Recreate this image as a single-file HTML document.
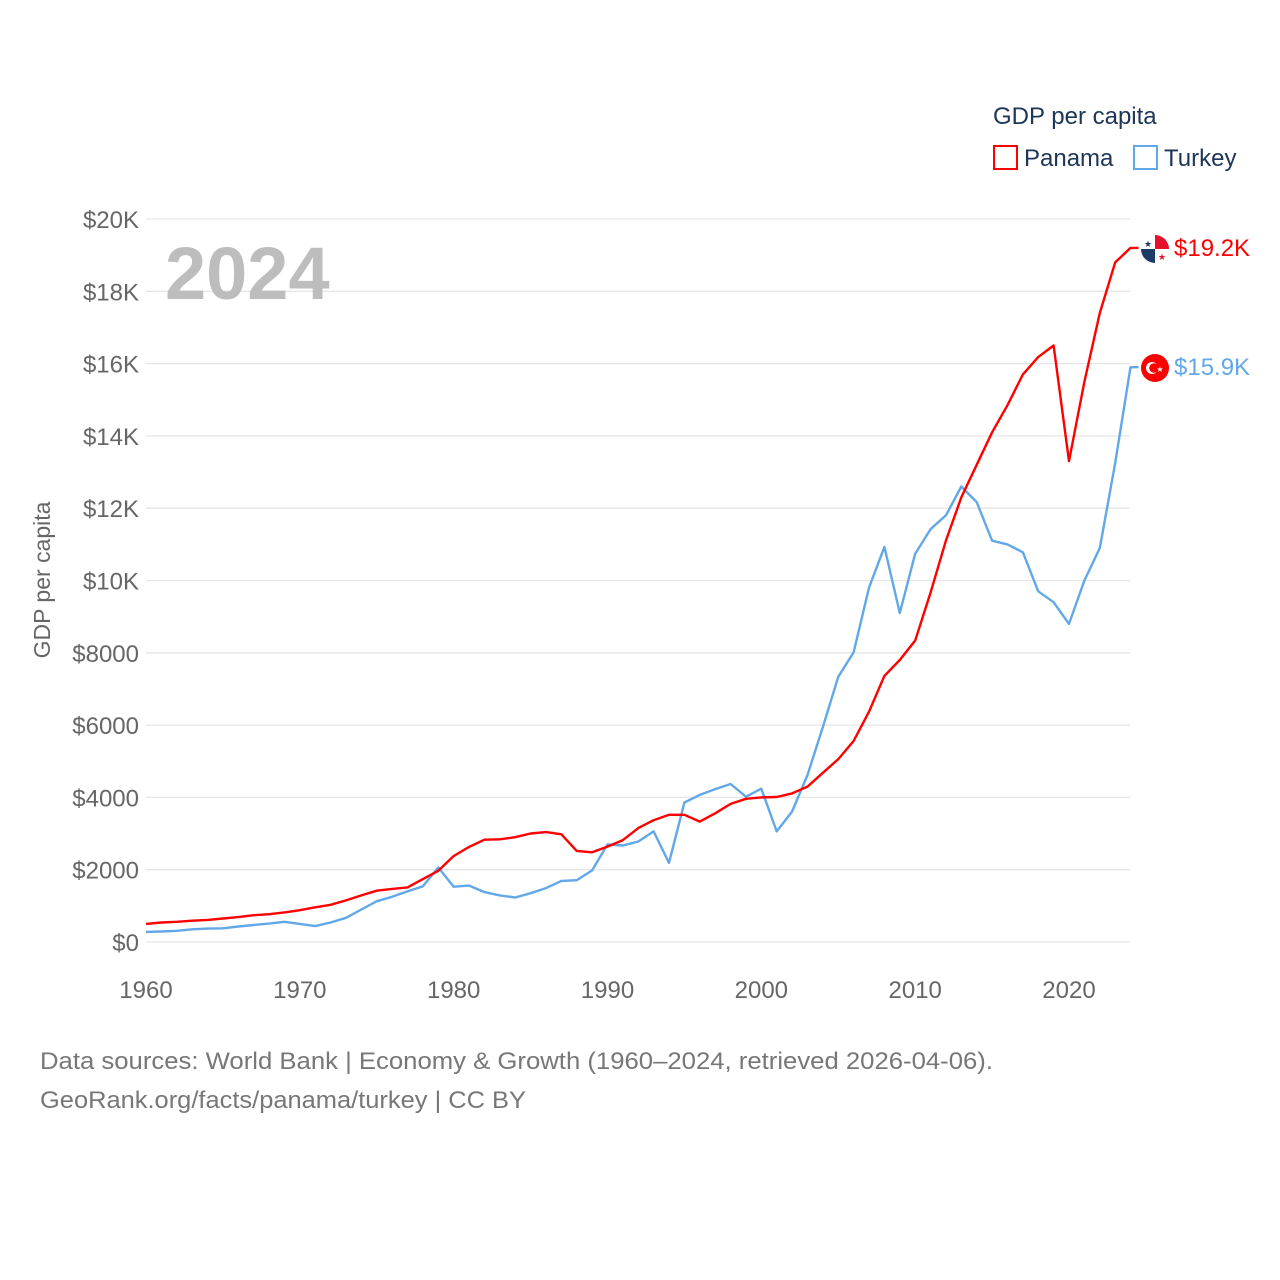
<!DOCTYPE html>
<html><head><meta charset="utf-8">
<style>
body{margin:0;background:#fff;}
svg{display:block;font-family:"Liberation Sans",sans-serif;}
</style></head>
<body>
<svg id="chart" width="1280" height="1280" viewBox="0 0 1280 1280">
<g id="grid"></g>
<g id="yticks"></g>
<g id="xticks"></g>
<text x="165" y="299" font-size="74" font-weight="bold" fill="#bdbdbd">2024</text>
<text transform="translate(50,580) rotate(-90)" text-anchor="middle" font-size="23" fill="#666">GDP per capita</text>
<text x="993" y="124" font-size="24" fill="#1d3557">GDP per capita</text>
<g><rect x="994" y="146" width="23" height="23" fill="none" stroke="#f00" stroke-width="2"/><text x="1024" y="166" font-size="24" fill="#1d3557">Panama</text></g>
<g><rect x="1134" y="146" width="23" height="23" fill="none" stroke="#62a8e8" stroke-width="2"/><text x="1164" y="166" font-size="24" fill="#1d3557">Turkey</text></g>
<g id="series"></g>
<g>
<circle cx="1155" cy="249" r="14" fill="#fff"/>
<path d="M1155 249 V235 A14 14 0 0 1 1169 249 Z" fill="#e8112d"/>
<path d="M1155 249 H1141 A14 14 0 0 0 1155 263 Z" fill="#1d3a6b"/>
<text x="1148" y="247" font-size="9" fill="#1d3a6b" text-anchor="middle">★</text>
<text x="1162" y="260" font-size="9" fill="#e8112d" text-anchor="middle">★</text>
</g>
<g>
<circle cx="1155" cy="368" r="14" fill="#f00"/>
<circle cx="1152" cy="368" r="6" fill="#fff"/>
<circle cx="1154" cy="368" r="4.8" fill="#f00"/>
<text x="1160" y="372" font-size="8" fill="#fff" text-anchor="middle">★</text>
</g>
<text x="1174" y="256" font-size="24" fill="#f00">$19.2K</text>
<text x="1174" y="375" font-size="24" fill="#62a8e8">$15.9K</text>
<text x="40" y="1069" font-size="24" fill="#777" textLength="953" lengthAdjust="spacingAndGlyphs">Data sources: World Bank | Economy &amp; Growth (1960–2024, retrieved 2026-04-06).</text>
<text x="40" y="1108" font-size="24" fill="#777" textLength="486" lengthAdjust="spacingAndGlyphs">GeoRank.org/facts/panama/turkey | CC BY</text>
</svg>
<script>
const years = [];
for (let y = 1960; y <= 2024; y++) years.push(y);
const panama = [500,540,560,590,610,650,690,740,770,820,880,960,1030,1150,1290,1420,1470,1510,1740,1970,2380,2630,2830,2840,2900,3000,3040,2980,2520,2480,2640,2820,3150,3370,3520,3520,3330,3560,3820,3960,4000,4010,4110,4300,4680,5060,5560,6370,7360,7800,8340,9660,11100,12300,13200,14100,14850,15700,16180,16500,13300,15500,17400,18800,19200];
const turkey = [280,290,310,350,370,380,430,470,510,560,500,440,540,670,900,1130,1250,1400,1540,2060,1530,1560,1380,1290,1230,1350,1490,1690,1710,1980,2700,2670,2780,3060,2190,3860,4070,4230,4370,4020,4240,3060,3610,4620,5950,7340,8010,9800,10930,9100,10740,11420,11800,12600,12170,11100,11000,10780,9700,9400,8800,10000,10900,13250,15900];
const yTicks = [0,2000,4000,6000,8000,10000,12000,14000,16000,18000,20000];
const yTickLabels = ["$0","$2000","$4000","$6000","$8000","$10K","$12K","$14K","$16K","$18K","$20K"];
const xTicks = [1960,1970,1980,1990,2000,2010,2020];

const NS = "http://www.w3.org/2000/svg";
const xS = y => 146 + (y - 1960) * (1069 - 146) / 60;
const yS = v => 942 - v * (942 - 219) / 20000;
function mk(tag, attrs, parent){const e=document.createElementNS(NS,tag);for(const k in attrs)e.setAttribute(k,attrs[k]);parent.appendChild(e);return e;}
const grid=document.getElementById('grid'), yt=document.getElementById('yticks'), xt=document.getElementById('xticks'), ser=document.getElementById('series');
yTicks.forEach((v,i)=>{
  const l=mk('line',{x1:146,x2:1130,y1:yS(v),y2:yS(v),stroke:'#e6e6e6','stroke-width':1.3},grid);
  
  
  const t=mk('text',{x:139,y:yS(v)+9,'text-anchor':'end','font-size':24,fill:'#666'},yt);
  t.textContent=yTickLabels[i];
  
  
});
xTicks.forEach(y=>{
  const t=mk('text',{x:xS(y),y:998,'text-anchor':'middle','font-size':24,fill:'#666'},xt);
  t.textContent=y;
  
  
});
function line(data,color,name){
  let d=data.map((v,i)=>(i?'L':'M')+xS(years[i]).toFixed(1)+' '+yS(v).toFixed(1)).join(' ');
  d+=' h8';
  const p=mk('path',{d:d,fill:'none',stroke:color,'stroke-width':2.4,'stroke-linejoin':'round'},ser);
  
  
}
line(turkey,'#62a8e8','turkey-line');
line(panama,'#f00','panama-line');
</script>
</body></html>
